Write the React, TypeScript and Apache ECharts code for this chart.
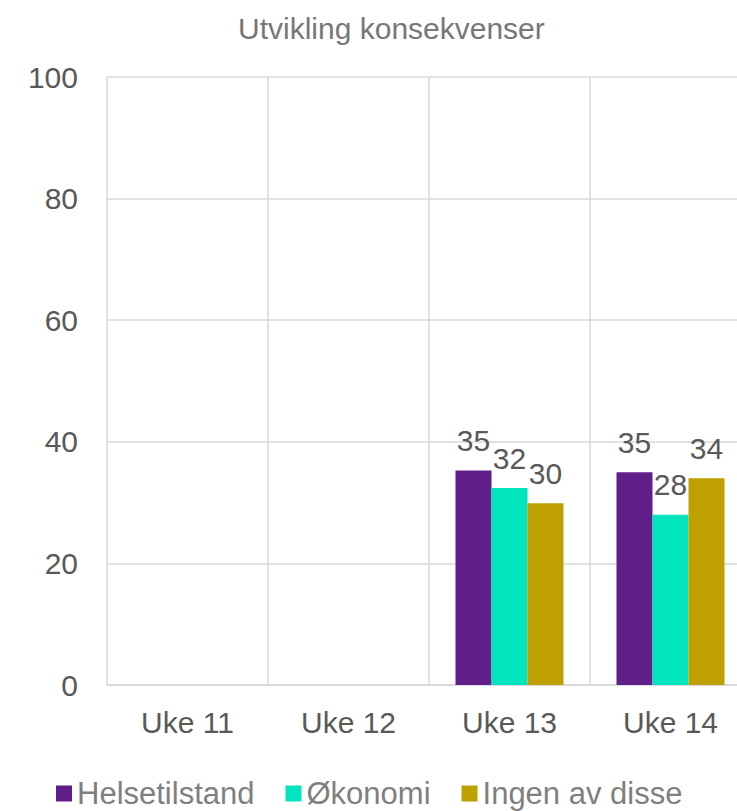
import React, { useEffect, useRef } from "react";
import * as echarts from "echarts";

const categories = ["Uke 11", "Uke 12", "Uke 13", "Uke 14"];
const seriesNames = ["Helsetilstand", "Økonomi", "Ingen av disse"];
const helsetilstand = [null, null, 35.3, 35.0];
const okonomi = [null, null, 32.4, 28.0];
const ingen = [null, null, 29.9, 34.0];
const colors = ["#601F88", "#00E5BD", "#BEA100"];
const yTicks = { min: 0, max: 100, interval: 20 };

const FONT = "'Liberation Sans', Arial, sans-serif";

export default function App() {
  const ref = useRef<HTMLDivElement>(null);
  useEffect(() => {
    if (!ref.current) return;
    const chart = echarts.init(ref.current, undefined, { renderer: "svg" });
    const values = [helsetilstand, okonomi, ingen];
    chart.setOption({
      animation: false,
      backgroundColor: "#ffffff",
      textStyle: { fontFamily: FONT },
      title: {
        text: "Utvikling konsekvenser",
        left: 233,
        top: 8,
        textStyle: { fontFamily: FONT, fontSize: 30, fontWeight: "normal", color: "#777777" },
      },
      legend: {
        left: 51,
        top: 773,
        itemWidth: 16,
        itemHeight: 16,
        itemGap: 31,
        icon: "rect",
        data: seriesNames,
        textStyle: { fontFamily: FONT, fontSize: 31, color: "#7f7f7f" },
      },
      grid: { left: 107, right: 9, top: 77, bottom: 126, containLabel: false },
      xAxis: {
        type: "category",
        data: categories,
        axisLine: { show: true, lineStyle: { color: "#d9d9d9", width: 1.5 } },
        axisTick: { show: false },
        splitLine: { show: true, lineStyle: { color: "#d9d9d9", width: 1.5 } },
        axisLabel: { fontFamily: FONT, fontSize: 30, color: "#595959", margin: 22 },
      },
      yAxis: {
        type: "value",
        min: yTicks.min,
        max: yTicks.max,
        interval: yTicks.interval,
        axisLine: { show: false },
        axisTick: { show: false },
        splitLine: { show: true, lineStyle: { color: "#d9d9d9", width: 1.5 } },
        axisLabel: { fontFamily: FONT, fontSize: 30, color: "#595959", margin: 29 },
      },
      series: seriesNames.map((name, i) => ({
        name,
        type: "bar",
        data: values[i],
        barWidth: 36,
        barGap: "0%",
        itemStyle: { color: colors[i] },
        label: {
          show: true,
          position: "top",
          distance: 15,
          fontFamily: FONT,
          fontSize: 30,
          color: "#595959",
          formatter: (p: any) => (p.value == null ? "" : String(Math.round(p.value))),
        },
      })),
    });
    return () => chart.dispose();
  }, []);
  return (
    <div style={{ position: "fixed", left: 0, top: 0, width: 737, height: 811, overflow: "hidden", background: "#fff" }}>
      <div ref={ref} style={{ position: "absolute", left: 0, top: 0, width: 760, height: 811 }} />
    </div>
  );
}
